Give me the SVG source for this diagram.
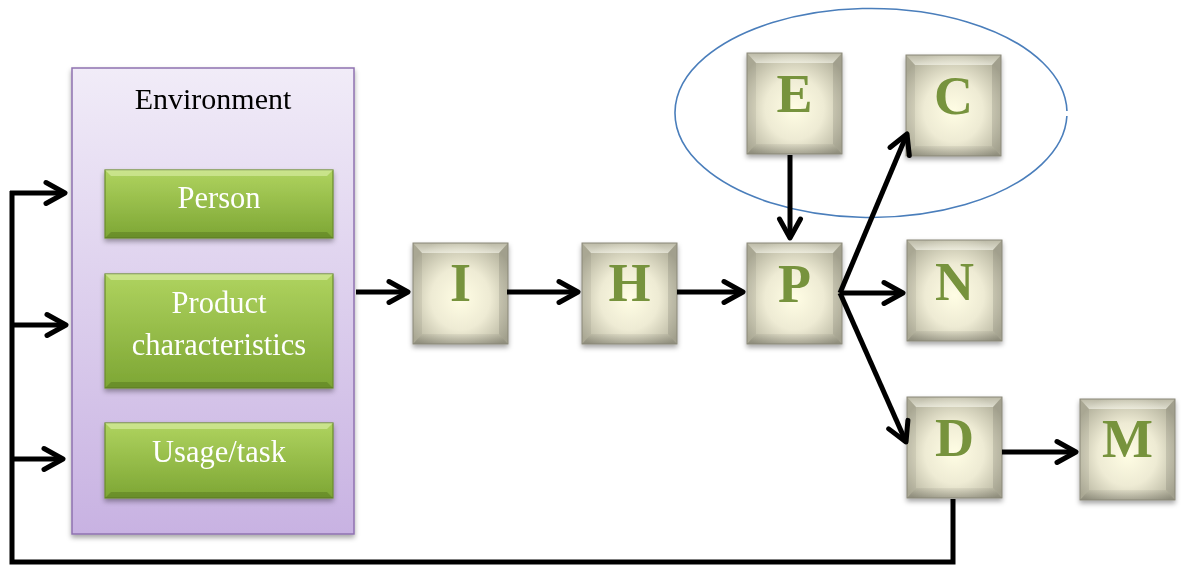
<svg xmlns="http://www.w3.org/2000/svg" xmlns:xlink="http://www.w3.org/1999/xlink" width="1182" height="567" viewBox="0 0 1182 567">
<style>
.env-title{font-family:"Liberation Serif","Times New Roman",serif;font-size:30px;fill:#000;text-anchor:middle}
.gtxt{font-family:"Liberation Serif","Times New Roman",serif;font-size:30.5px;fill:#fff;text-anchor:middle}
.ltr{font-family:"Liberation Serif","Times New Roman",serif;font-size:54px;font-weight:bold;fill:#77933C;text-anchor:middle}
.conn{stroke:#000;stroke-width:5;fill:none;stroke-linejoin:miter}
.arr{marker-end:url(#ah)}
</style>
<defs>
<linearGradient id="envg" x1="0" y1="0" x2="0" y2="1">
<stop offset="0" stop-color="#F1ECF8"/>
<stop offset="1" stop-color="#C8B2E2"/>
</linearGradient>
<linearGradient id="greeng" x1="0" y1="0" x2="0" y2="1">
<stop offset="0" stop-color="#AFD35F"/>
<stop offset="1" stop-color="#7DA634"/>
</linearGradient>
<radialGradient id="cubeg" cx="0.5" cy="0.55" r="0.62">
<stop offset="0" stop-color="#FFFDE4"/>
<stop offset="0.5" stop-color="#EEEBD4"/>
<stop offset="1" stop-color="#B4B29D"/>
</radialGradient>
<linearGradient id="topb" x1="0" y1="0" x2="0" y2="1">
<stop offset="0" stop-color="#FFFFF6" stop-opacity="0.1"/>
<stop offset="1" stop-color="#FFFFF6" stop-opacity="0.55"/>
</linearGradient>
<linearGradient id="botb" x1="0" y1="0" x2="0" y2="1">
<stop offset="0" stop-color="#000" stop-opacity="0.05"/>
<stop offset="1" stop-color="#000" stop-opacity="0.22"/>
</linearGradient>
<filter id="sh" x="-20%" y="-20%" width="140%" height="150%">
<feDropShadow dx="0" dy="3" stdDeviation="2.5" flood-color="#000" flood-opacity="0.35"/>
</filter>
<marker id="ah" markerUnits="userSpaceOnUse" markerWidth="40" markerHeight="40" viewBox="-30 -20 40 40" refX="0" refY="0" orient="auto">
<path d="M-19,-10.5 L0,0 L-19,10.5" fill="none" stroke="#000" stroke-width="5" stroke-linecap="round" stroke-linejoin="round"/>
</marker>
<g id="cube">
<rect x="0" y="0" width="95" height="101" fill="url(#cubeg)"/>
<polygon points="0,0 95,0 86,10 9,10" fill="url(#topb)"/>
<polygon points="0,0 9,10 9,91 0,101" fill="#000" opacity="0.06"/>
<polygon points="95,0 95,101 86,91 86,10" fill="#000" opacity="0.1"/>
<polygon points="0,101 9,91 86,91 95,101" fill="url(#botb)"/>
<rect x="0" y="0" width="95" height="101" fill="none" stroke="#8A8878" stroke-width="1"/>
</g>
</defs>

<rect width="1182" height="567" fill="#fff"/>

<g id="environment" filter="url(#sh)">
<rect x="72" y="68" width="282" height="466" fill="url(#envg)" stroke="#8F72B0" stroke-width="1.5"/>
<text class="env-title" x="213" y="109">Environment</text>
</g>

<g id="person" filter="url(#sh)">
<rect x="105" y="170" width="228" height="68" fill="url(#greeng)" stroke="#6A8C2C" stroke-width="1.2"/>
<polygon points="105,170 333,170 327,176 111,176" fill="#E6F5B8" opacity="0.5"/>
<polygon points="105,238 111,232 327,232 333,238" fill="#3F5A14" opacity="0.3"/>
<text class="gtxt" x="219" y="208">Person</text>
</g>

<g id="product" filter="url(#sh)">
<rect x="105" y="274" width="228" height="114" fill="url(#greeng)" stroke="#6A8C2C" stroke-width="1.2"/>
<polygon points="105,274 333,274 327,280 111,280" fill="#E6F5B8" opacity="0.5"/>
<polygon points="105,388 111,382 327,382 333,388" fill="#3F5A14" opacity="0.3"/>
<text class="gtxt" x="219" y="313">Product</text>
<text class="gtxt" x="219" y="355">characteristics</text>
</g>

<g id="usage" filter="url(#sh)">
<rect x="105" y="423" width="228" height="75" fill="url(#greeng)" stroke="#6A8C2C" stroke-width="1.2"/>
<polygon points="105,423 333,423 327,429 111,429" fill="#E6F5B8" opacity="0.5"/>
<polygon points="105,498 111,492 327,492 333,498" fill="#3F5A14" opacity="0.3"/>
<text class="gtxt" x="219" y="462">Usage/task</text>
</g>

<path id="group-ellipse" d="M1066.9,116 A196,104.5 0 1 1 1066.95,111" fill="none" stroke="#4A7EBB" stroke-width="1.6"/>

<g id="node-I" filter="url(#sh)">
<use xlink:href="#cube" x="413" y="243"/>
<text class="ltr" x="460.5" y="301">I</text>
</g>
<g id="node-H" filter="url(#sh)">
<use xlink:href="#cube" x="582" y="243"/>
<text class="ltr" x="629.5" y="301">H</text>
</g>
<g id="node-P" filter="url(#sh)">
<use xlink:href="#cube" x="747" y="243"/>
<text class="ltr" x="794.5" y="302">P</text>
</g>
<g id="node-E" filter="url(#sh)">
<use xlink:href="#cube" x="747" y="53"/>
<text class="ltr" x="794.5" y="112">E</text>
</g>
<g id="node-C" filter="url(#sh)">
<use xlink:href="#cube" x="906" y="55"/>
<text class="ltr" x="953.5" y="114">C</text>
</g>
<g id="node-N" filter="url(#sh)">
<use xlink:href="#cube" x="907" y="240"/>
<text class="ltr" x="954.5" y="300">N</text>
</g>
<g id="node-D" filter="url(#sh)">
<use xlink:href="#cube" x="907" y="397"/>
<text class="ltr" x="954.5" y="456">D</text>
</g>
<g id="node-M" filter="url(#sh)">
<use xlink:href="#cube" x="1080" y="399"/>
<text class="ltr" x="1127.5" y="457">M</text>
</g>

<g id="connectors">
<path class="conn arr" d="M356,292 L408,292"/>
<path class="conn arr" d="M507,292 L578,292"/>
<path class="conn arr" d="M677,292 L743,292"/>
<path class="conn arr" d="M790,155 L790,238"/>
<path class="conn arr" d="M840,293 L907,134"/>
<path class="conn arr" d="M840,293 L903,293"/>
<path class="conn arr" d="M840,293 L906,442"/>
<path class="conn arr" d="M1002,452 L1076,452"/>
<path class="conn" d="M953,499 L953,562 L12,562 L12,191"/>
<path class="conn arr" d="M10,193 L65,193"/>
<path class="conn arr" d="M12,325 L66,325"/>
<path class="conn arr" d="M12,459 L63,459"/>
</g>
</svg>
